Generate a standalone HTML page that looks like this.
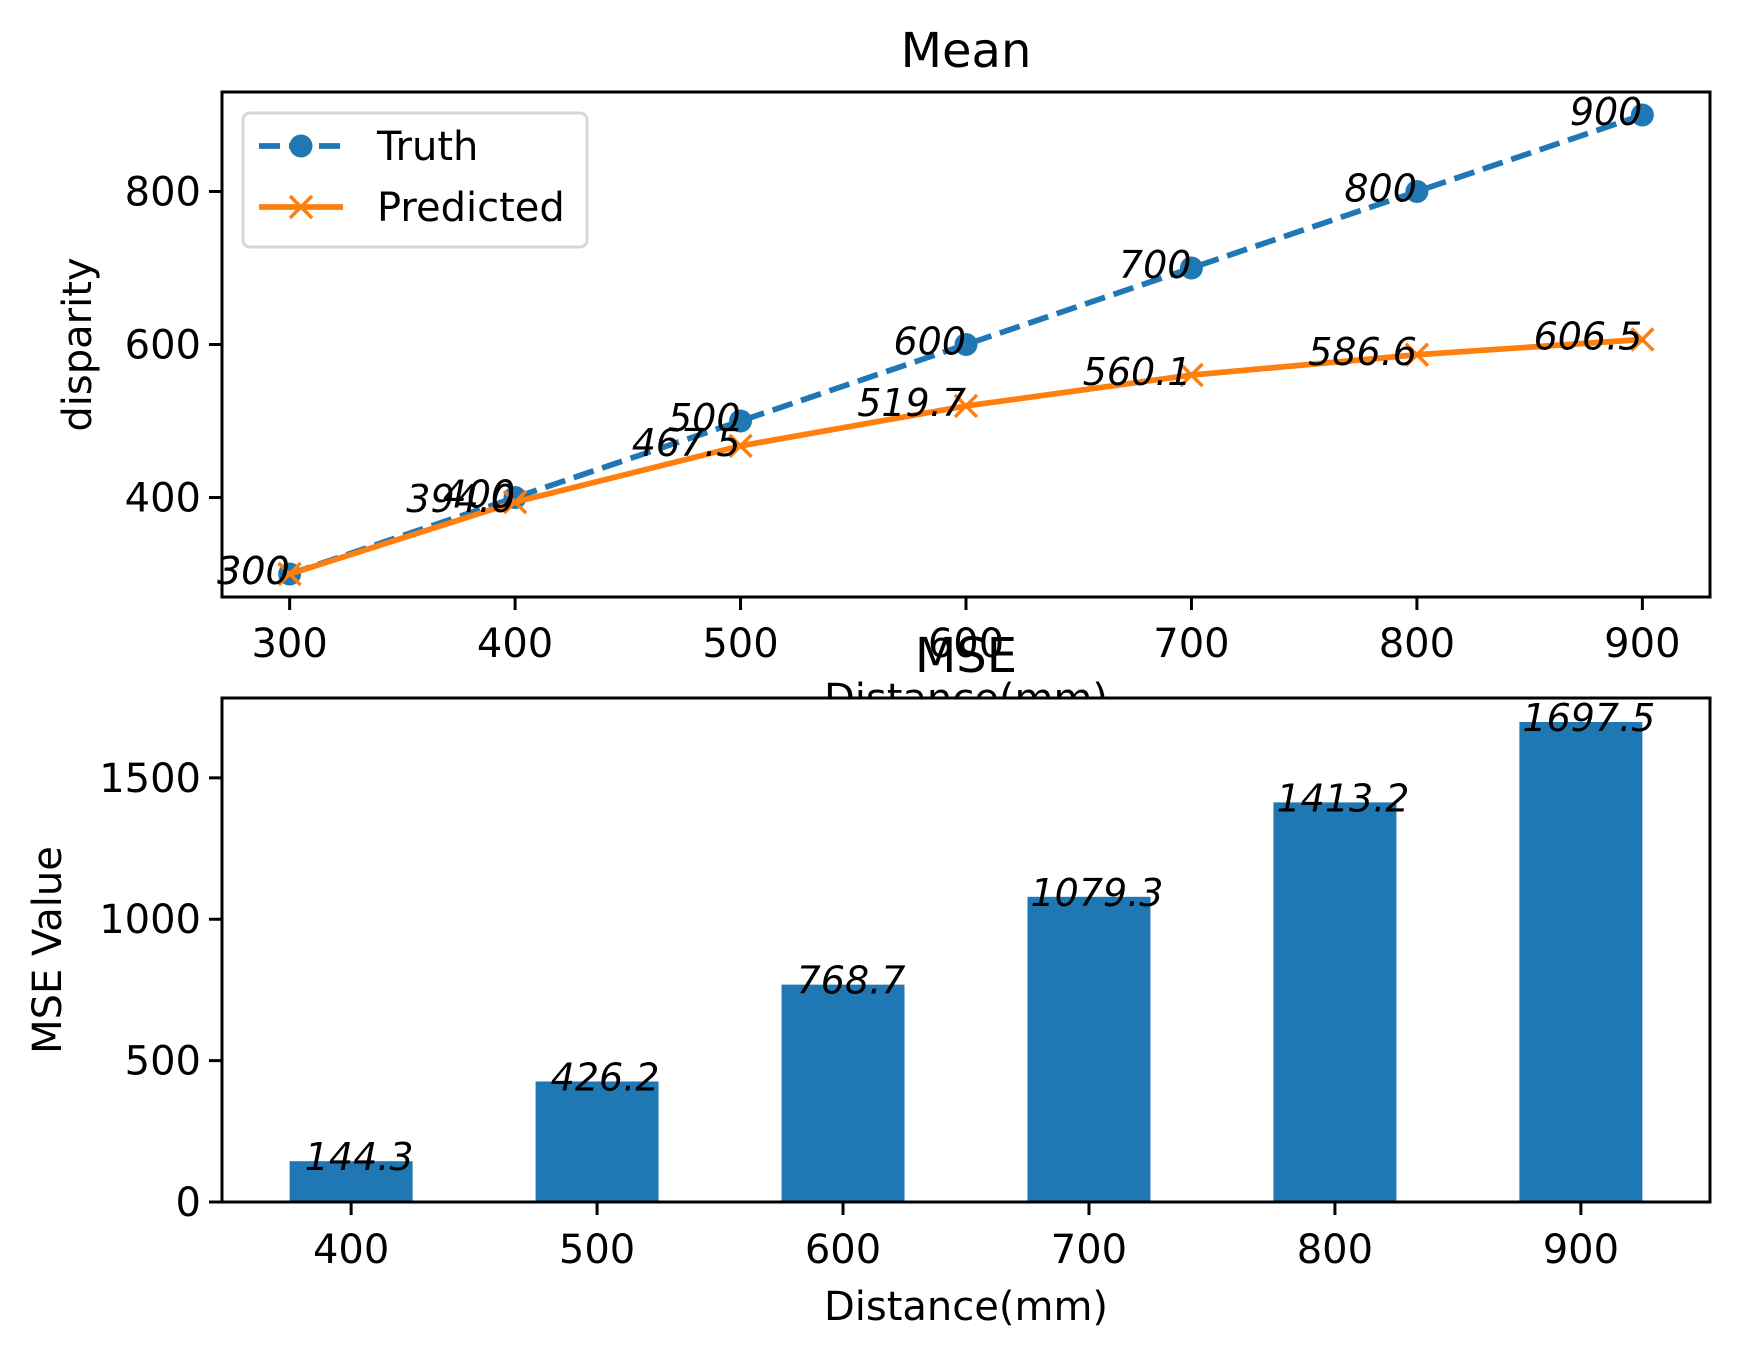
<!DOCTYPE html>
<html><head><meta charset="utf-8"><style>
html,body{margin:0;padding:0;background:#fff;}
svg text{font-family:"DejaVu Sans","Liberation Sans",sans-serif;}
</style></head><body>
<svg id="fig" width="1739" height="1357" viewBox="0 0 1739 1357" xmlns="http://www.w3.org/2000/svg">
<rect width="1739" height="1357" fill="#fff"/>
<g id="topg"></g>
<g id="botg"></g>
</svg>
<script>
const distances = [300, 400, 500, 600, 700, 800, 900];
const truthValues = [300, 400, 500, 600, 700, 800, 900];
const predictedValues = [300, 394.0, 467.5, 519.7, 560.1, 586.6, 606.5];
const predictedLabels = ["300", "394.0", "467.5", "519.7", "560.1", "586.6", "606.5"];
const topXTicks = [300, 400, 500, 600, 700, 800, 900];
const topYTicks = [400, 600, 800];
const mseCategories = [400, 500, 600, 700, 800, 900];
const mseValues = [144.3, 426.2, 768.7, 1079.3, 1413.2, 1697.5];
const mseYTicks = [0, 500, 1000, 1500];

const NS = "http://www.w3.org/2000/svg";
function mk(parent, tag, attrs, text) {
  const el = document.createElementNS(NS, tag);
  for (const k in attrs) el.setAttribute(k, attrs[k]);
  if (text !== undefined) el.textContent = text;
  parent.appendChild(el);
  return el;
}
const FS = 40;
const AFS = 38;

// ---------- Top axes ----------
const topG = document.getElementById('topg');
const T = {l: 222, r: 1710, t: 92, b: 597, x0: 270, x1: 930, y0: 270, y1: 930};
const tx = v => T.l + (v - T.x0) / (T.x1 - T.x0) * (T.r - T.l);
const ty = v => T.b - (v - T.y0) / (T.y1 - T.y0) * (T.b - T.t);

let e;
e = mk(topG, 'rect', {x: T.l, y: T.t, width: T.r - T.l, height: T.b - T.t, fill: '#fff'});



e = mk(topG, 'text', {x: (T.l + T.r) / 2, y: 712, 'font-size': FS, 'text-anchor': 'middle'}, 'Distance(mm)');



let d = truthValues.map((v, i) => (i ? 'L' : 'M') + tx(distances[i]) + ' ' + ty(v)).join(' ');
e = mk(topG, 'path', {d: d, fill: 'none', stroke: '#1f77b4', 'stroke-width': 5.7, 'stroke-dasharray': '21,9'});


truthValues.forEach((v, i) => {
  const c = mk(topG, 'circle', {cx: tx(distances[i]), cy: ty(v), r: 11.5, fill: '#1f77b4'});
  
  
});
d = predictedValues.map((v, i) => (i ? 'L' : 'M') + tx(distances[i]) + ' ' + ty(v)).join(' ');
e = mk(topG, 'path', {d: d, fill: 'none', stroke: '#ff7f0e', 'stroke-width': 5.7});


predictedValues.forEach((v, i) => {
  const x = tx(distances[i]), y = ty(v), s = 11;
  const p = mk(topG, 'path', {d: `M${x-s} ${y-s}L${x+s} ${y+s}M${x-s} ${y+s}L${x+s} ${y-s}`, stroke: '#ff7f0e', 'stroke-width': 3.5});
  
  
});
truthValues.forEach((v, i) => {
  const t = mk(topG, 'text', {x: tx(distances[i]), y: ty(v) + 10, 'font-size': AFS, 'font-style': 'italic', 'text-anchor': 'end'}, String(v));
  
  
});
predictedValues.forEach((v, i) => {
  const t = mk(topG, 'text', {x: tx(distances[i]), y: ty(v) + 10, 'font-size': AFS, 'font-style': 'italic', 'text-anchor': 'end'}, predictedLabels[i]);
  
  
});
e = mk(topG, 'rect', {x: T.l, y: T.t, width: T.r - T.l, height: T.b - T.t, fill: 'none', stroke: '#000', 'stroke-width': 3});


topXTicks.forEach(v => {
  const l = mk(topG, 'line', {x1: tx(v), x2: tx(v), y1: T.b, y2: T.b + 13, stroke: '#000', 'stroke-width': 3});
  
  
  const t = mk(topG, 'text', {x: tx(v), y: 657, 'font-size': FS, 'text-anchor': 'middle'}, String(v));
  
  
});
topYTicks.forEach(v => {
  const l = mk(topG, 'line', {x1: T.l - 13, x2: T.l, y1: ty(v), y2: ty(v), stroke: '#000', 'stroke-width': 3});
  
  
  const t = mk(topG, 'text', {x: T.l - 21, y: ty(v) + 14, 'font-size': FS, 'text-anchor': 'end'}, String(v));
  
  
});
e = mk(topG, 'text', {x: 0, y: 0, 'font-size': FS, 'text-anchor': 'middle', transform: `translate(91 ${(T.t + T.b) / 2}) rotate(-90)`}, 'disparity');


e = mk(topG, 'text', {x: (T.l + T.r) / 2, y: 67, 'font-size': 48, 'text-anchor': 'middle'}, 'Mean');



const lg = mk(topG, 'g', {});


mk(lg, 'rect', {x: 243, y: 113, width: 344, height: 134, rx: 7, fill: '#fff', 'fill-opacity': 0.8, stroke: '#d6d6d6', 'stroke-width': 3});
e = mk(lg, 'g', {});


mk(e, 'line', {x1: 259, x2: 343, y1: 146, y2: 146, stroke: '#1f77b4', 'stroke-width': 5.7, 'stroke-dasharray': '21,9'});
mk(e, 'circle', {cx: 301, cy: 146, r: 11.5, fill: '#1f77b4'});
mk(e, 'text', {x: 377, y: 160, 'font-size': FS}, 'Truth');
e = mk(lg, 'g', {});


mk(e, 'line', {x1: 259, x2: 343, y1: 207, y2: 207, stroke: '#ff7f0e', 'stroke-width': 5.7});
mk(e, 'path', {d: 'M290 196L312 218M290 218L312 196', stroke: '#ff7f0e', 'stroke-width': 3.5});
mk(e, 'text', {x: 377, y: 221, 'font-size': FS}, 'Predicted');

// ---------- Bottom axes ----------
const botG = document.getElementById('botg');
const B = {l: 222, r: 1710, t: 698, b: 1202, x0: 347.5, x1: 952.5, y0: 0, y1: 1782.4};
const bx = v => B.l + (v - B.x0) / (B.x1 - B.x0) * (B.r - B.l);
const by = v => B.b - (v - B.y0) / (B.y1 - B.y0) * (B.b - B.t);

e = mk(botG, 'rect', {x: B.l, y: B.t, width: B.r - B.l, height: B.b - B.t, fill: '#fff'});


mseValues.forEach((v, i) => {
  const c = mseCategories[i];
  const r = mk(botG, 'rect', {x: bx(c - 25), y: by(v), width: bx(c + 25) - bx(c - 25), height: by(0) - by(v), fill: '#1f77b4'});
  
  
});
mseValues.forEach((v, i) => {
  const t = mk(botG, 'text', {x: bx(mseCategories[i]) + 8, y: by(v) + 9, 'font-size': AFS, 'font-style': 'italic', 'text-anchor': 'middle'}, v.toFixed(1));
  
  
});
e = mk(botG, 'rect', {x: B.l, y: B.t, width: B.r - B.l, height: B.b - B.t, fill: 'none', stroke: '#000', 'stroke-width': 3});


mseCategories.forEach(v => {
  const l = mk(botG, 'line', {x1: bx(v), x2: bx(v), y1: B.b, y2: B.b + 13, stroke: '#000', 'stroke-width': 3});
  
  
  const t = mk(botG, 'text', {x: bx(v), y: 1263, 'font-size': FS, 'text-anchor': 'middle'}, String(v));
  
  
});
mseYTicks.forEach(v => {
  const l = mk(botG, 'line', {x1: B.l - 13, x2: B.l, y1: by(v), y2: by(v), stroke: '#000', 'stroke-width': 3});
  
  
  const t = mk(botG, 'text', {x: B.l - 21, y: by(v) + 14, 'font-size': FS, 'text-anchor': 'end'}, String(v));
  
  
});
e = mk(botG, 'text', {x: (B.l + B.r) / 2, y: 1320, 'font-size': FS, 'text-anchor': 'middle'}, 'Distance(mm)');


e = mk(botG, 'text', {x: 0, y: 0, 'font-size': FS, 'text-anchor': 'middle', transform: `translate(61 ${(B.t + B.b) / 2}) rotate(-90)`}, 'MSE Value');


e = mk(botG, 'text', {x: (B.l + B.r) / 2, y: 672, 'font-size': 48, 'text-anchor': 'middle'}, 'MSE');


</script>
</body></html>
